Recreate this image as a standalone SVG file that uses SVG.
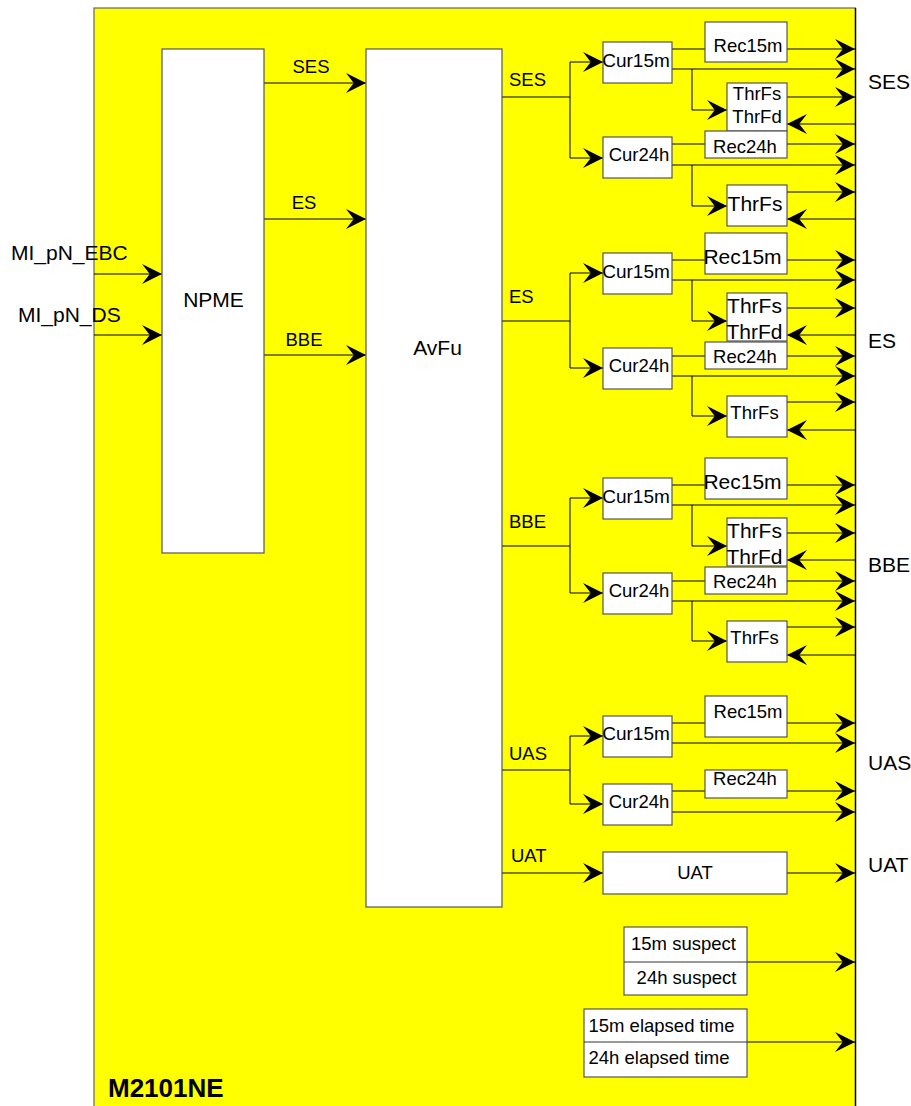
<svg xmlns="http://www.w3.org/2000/svg" width="911" height="1106" viewBox="0 0 911 1106">
<style>
text{font-family:"Liberation Sans",Arial,sans-serif;fill:#000}
.s18{font-size:18.5px}
.s19{font-size:19px}
.s21{font-size:21px}
.m{text-anchor:middle}
.box{fill:#fff;stroke:#555;stroke-width:1.2}
.c path{fill:none;stroke:#000;stroke-width:1}
.a{marker-end:url(#ah)}
</style>
<defs>
<marker id="ah" markerUnits="userSpaceOnUse" markerWidth="20" markerHeight="20" viewBox="0 0 18 18" refX="18" refY="9" orient="auto">
<path d="M18,9 L0,0 L7,9 L0,18 Z" fill="#000"/>
</marker>
</defs>
<g id="frame">
<rect x="94" y="8" width="761.5" height="1110" fill="#ffff00" stroke="#666" stroke-width="1.2"/>
<line x1="855.5" y1="8" x2="855.5" y2="1106" stroke="#000" stroke-width="1.4"/>
<text x="108" y="1097" style="font-size:26px;font-weight:bold">M2101NE</text>
</g>
<g id="outer-labels">
<text class="s21" x="11" y="260">MI_pN_EBC</text>
<text class="s21" x="18" y="322">MI_pN_DS</text>
<text class="s18 m" x="311" y="73">SES</text>
<text class="s18 m" x="304" y="209">ES</text>
<text class="s18 m" x="304" y="346">BBE</text>
<text class="s18" x="509" y="86">SES</text>
<text class="s18" x="509" y="303">ES</text>
<text class="s18" x="509" y="528">BBE</text>
<text class="s18" x="509" y="760">UAS</text>
<text class="s18" x="511" y="862">UAT</text>
<text class="s21" x="868" y="89">SES</text>
<text class="s21" x="868" y="348">ES</text>
<text class="s21" x="868" y="572">BBE</text>
<text class="s21" x="868" y="770">UAS</text>
<text class="s21" x="868" y="872">UAT</text>
</g>
<g id="connectors" class="c">
<path class="a" d="M94,274 H162"/>
<path class="a" d="M94,335 H162"/>
<path class="a" d="M264,83 H366"/>
<path class="a" d="M264,219 H366"/>
<path class="a" d="M264,355 H366"/>
<!-- SES -->
<path d="M502,97 H570 M570,62 V158"/>
<path class="a" d="M570,62 H603"/>
<path class="a" d="M570,158 H603"/>
<path class="a" d="M672,49 H855"/>
<path class="a" d="M672,69 H855"/>
<path class="a" d="M692,69 V110 H727"/>
<path class="a" d="M787,97 H855"/>
<path class="a" d="M855,124 H787"/>
<path class="a" d="M672,144 H855"/>
<path class="a" d="M672,165 H855"/>
<path class="a" d="M692,165 V206 H727"/>
<path class="a" d="M787,192 H855"/>
<path class="a" d="M855,219 H787"/>
<!-- ES -->
<path d="M502,321 H570 M570,273 V368"/>
<path class="a" d="M570,273 H603"/>
<path class="a" d="M570,368 H603"/>
<path class="a" d="M672,260 H855"/>
<path class="a" d="M672,280 H855"/>
<path class="a" d="M692,280 V321 H727"/>
<path class="a" d="M787,308 H855"/>
<path class="a" d="M855,335 H787"/>
<path class="a" d="M672,356 H855"/>
<path class="a" d="M672,376 H855"/>
<path class="a" d="M692,376 V416 H727"/>
<path class="a" d="M787,402 H855"/>
<path class="a" d="M855,430 H787"/>
<!-- BBE -->
<path d="M502,546 H570 M570,498 V593"/>
<path class="a" d="M570,498 H603"/>
<path class="a" d="M570,593 H603"/>
<path class="a" d="M672,485 H855"/>
<path class="a" d="M672,505 H855"/>
<path class="a" d="M692,505 V546 H727"/>
<path class="a" d="M787,533 H855"/>
<path class="a" d="M855,560 H787"/>
<path class="a" d="M672,581 H855"/>
<path class="a" d="M672,601 H855"/>
<path class="a" d="M692,601 V641 H727"/>
<path class="a" d="M787,627 H855"/>
<path class="a" d="M855,655 H787"/>
<!-- UAS -->
<path d="M502,770 H570 M570,736 V804"/>
<path class="a" d="M570,736 H603"/>
<path class="a" d="M570,804 H603"/>
<path class="a" d="M672,723 H855"/>
<path class="a" d="M672,743 H855"/>
<path class="a" d="M672,791 H855"/>
<path class="a" d="M672,812 H855"/>
<!-- UAT -->
<path class="a" d="M502,873 H603"/>
<path class="a" d="M787,873 H855"/>
<!-- bottom -->
<path class="a" d="M747,962 H855"/>
<path class="a" d="M747,1042 H855"/>
</g>
<g id="npme"><rect class="box" x="162" y="49" width="102" height="504"/><text class="s21 m" x="213.5" y="307">NPME</text></g>
<g id="avfu"><rect class="box" x="366" y="49" width="136" height="858"/><text class="s21 m" x="437.5" y="355">AvFu</text></g>
<!-- SES block -->
<g id="ses-cur15m"><rect class="box" x="603" y="42" width="69" height="41"/><text class="s19 m" x="636" y="67">Cur15m</text></g>
<g id="ses-rec15m"><rect class="box" x="705" y="22" width="82" height="40"/><text class="s18 m" x="748" y="52">Rec15m</text></g>
<g id="ses-thr15"><rect class="box" x="727" y="83" width="60" height="48"/><text class="s18 m" x="757" y="100">ThrFs</text><text class="s18 m" x="757" y="123">ThrFd</text></g>
<g id="ses-cur24h"><rect class="box" x="603" y="137" width="69" height="41"/><text class="s18 m" x="639" y="161">Cur24h</text></g>
<g id="ses-rec24h"><rect class="box" x="705" y="131" width="82" height="27"/><text class="s18 m" x="745" y="153">Rec24h</text></g>
<g id="ses-thr24"><rect class="box" x="727" y="185" width="60" height="41"/><text class="s21 m" x="755" y="211">ThrFs</text></g>
<!-- ES block -->
<g id="es-cur15m"><rect class="box" x="603" y="253" width="69" height="41"/><text class="s19 m" x="636" y="278">Cur15m</text></g>
<g id="es-rec15m"><rect class="box" x="705" y="233" width="82" height="41"/><text class="s21 m" x="742.5" y="264">Rec15m</text></g>
<g id="es-thr15"><rect class="box" x="727" y="293" width="60" height="48"/><text class="s21 m" x="754.5" y="313">ThrFs</text><text class="s21 m" x="754.5" y="339">ThrFd</text></g>
<g id="es-cur24h"><rect class="box" x="603" y="348" width="69" height="41"/><text class="s18 m" x="639" y="372">Cur24h</text></g>
<g id="es-rec24h"><rect class="box" x="705" y="342" width="82" height="27"/><text class="s18 m" x="745" y="363">Rec24h</text></g>
<g id="es-thr24"><rect class="box" x="727" y="396" width="60" height="41"/><text class="s18 m" x="754.5" y="419">ThrFs</text></g>
<!-- BBE block -->
<g id="bbe-cur15m"><rect class="box" x="603" y="478" width="69" height="41"/><text class="s19 m" x="636" y="503">Cur15m</text></g>
<g id="bbe-rec15m"><rect class="box" x="705" y="458" width="82" height="41"/><text class="s21 m" x="742.5" y="489">Rec15m</text></g>
<g id="bbe-thr15"><rect class="box" x="727" y="518" width="60" height="48"/><text class="s21 m" x="754.5" y="538">ThrFs</text><text class="s21 m" x="754.5" y="564">ThrFd</text></g>
<g id="bbe-cur24h"><rect class="box" x="603" y="573" width="69" height="41"/><text class="s18 m" x="639" y="597">Cur24h</text></g>
<g id="bbe-rec24h"><rect class="box" x="705" y="567" width="82" height="27"/><text class="s18 m" x="745" y="588">Rec24h</text></g>
<g id="bbe-thr24"><rect class="box" x="727" y="621" width="60" height="41"/><text class="s18 m" x="754.5" y="644">ThrFs</text></g>
<!-- UAS block -->
<g id="uas-cur15m"><rect class="box" x="603" y="716" width="69" height="41"/><text class="s19 m" x="636" y="740">Cur15m</text></g>
<g id="uas-rec15m"><rect class="box" x="705" y="696" width="82" height="41"/><text class="s18 m" x="748" y="718">Rec15m</text></g>
<g id="uas-cur24h"><rect class="box" x="603" y="784" width="69" height="41"/><text class="s18 m" x="639" y="808">Cur24h</text></g>
<g id="uas-rec24h"><rect class="box" x="705" y="770" width="82" height="28"/><text class="s18 m" x="745" y="785">Rec24h</text></g>
<g id="uat"><rect class="box" x="603" y="852" width="184" height="42"/><text class="s18 m" x="695" y="879">UAT</text></g>
<!-- bottom -->
<g id="suspect"><rect class="box" x="624" y="927" width="123" height="68"/><line x1="624" y1="962" x2="747" y2="962" stroke="#333" stroke-width="1"/><text class="s18 m" x="683.5" y="950">15m suspect</text><text class="s18 m" x="686.5" y="984">24h suspect</text></g>
<g id="elapsed"><rect class="box" x="584" y="1009" width="163" height="68"/><line x1="584" y1="1042" x2="747" y2="1042" stroke="#333" stroke-width="1"/><text class="s18 m" x="661.5" y="1032">15m elapsed time</text><text class="s18 m" x="659" y="1064">24h elapsed time</text></g>
</svg>
